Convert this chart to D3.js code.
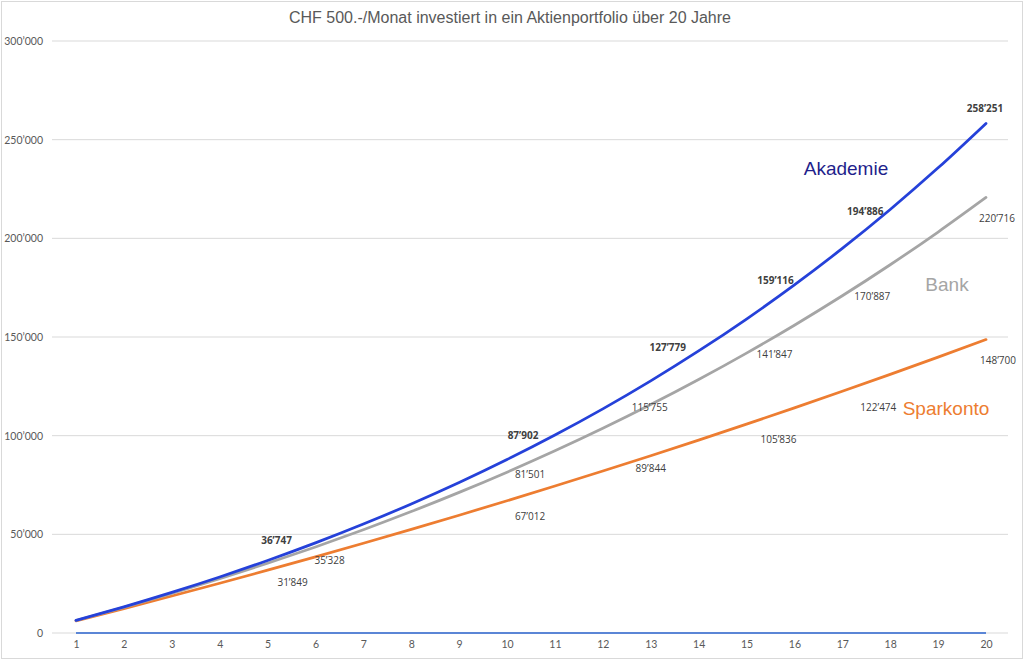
<!DOCTYPE html>
<html>
<head>
<meta charset="utf-8">
<script src="https://cdn.jsdelivr.net/npm/d3@7"></script>
<style>
  body { margin: 0; background: #fff; }
  svg { display: block; }
</style>
</head>
<body>
<svg id="chart" width="1024" height="661"></svg>
<script>
// Jahre 1..20
var years = d3.range(1, 21);

var akademie = [6410, 13259, 20577, 28395, 36747, 45671, 55205, 65392, 76275, 87902,
                100326, 113598, 127779, 142929, 159116, 176410, 194886, 214627, 235718, 258251];
var bank = [6330, 13008, 20054, 27487, 35328, 43601, 52330, 61538, 71252, 81501,
            92314, 103721, 115755, 128452, 141847, 155979, 170887, 186615, 203208, 220716];
var sparkonto = [6120, 12362, 18730, 25224, 31849, 38606, 45498, 52528, 59698, 67012,
                 74472, 82082, 89844, 97761, 105836, 114072, 122474, 131043, 139784, 148700];
var basis = [0, 0, 0, 0, 0, 0, 0, 0, 0, 0, 0, 0, 0, 0, 0, 0, 0, 0, 0, 0];

var yTicks = [0, 50000, 100000, 150000, 200000, 250000, 300000];
var labelYears = [5, 10, 13, 15, 17, 20];

var title = "CHF 500.-/Monat investiert in ein Aktienportfolio über 20 Jahre";

// label offsets (px) relative to point, per series
var offAkademie = [[9,-20],[16,-25],[17,-34],[29,-39],[23,-37],[-1,-15]];
var offBank = [[62,-3],[23,2],[-1,2],[28,1],[30,0],[11,21]];
var offSpar = [[25,12],[23,15],[0,12],[32,15],[36,16],[12,20]];

var svg = d3.select("#chart");
var W = 1024, H = 661;

svg.append("rect")
   .attr("x", 1.5).attr("y", 1.5)
   .attr("width", W - 3).attr("height", H - 4)
   .attr("fill", "#fff").attr("stroke", "#d9d9d9");

var gridLeft = 52, gridRight = 1008;

var x = d3.scalePoint().domain(years).range([76, 986]);
var y = d3.scaleLinear().domain([0, 300000]).range([633, 41]);

svg.append("text")
   .attr("x", 510).attr("y", 23)
   .attr("text-anchor", "middle")
   .attr("font-family", "Liberation Sans, Arial, sans-serif")
   .attr("font-size", 16)
   .attr("fill", "#595959")
   .text(title);

var fmt = function(v){ return d3.format(",")(v).replace(/,/g, "\u2019"); };

// grid
svg.append("g").selectAll("line").data(yTicks).enter().append("line")
   .attr("x1", gridLeft).attr("x2", gridRight)
   .attr("y1", function(d){ return y(d); }).attr("y2", function(d){ return y(d); })
   .attr("stroke", "#d9d9d9").attr("stroke-width", 1);

// y axis labels
var yAxis = d3.axisLeft(y).tickValues(yTicks).tickSize(0).tickPadding(0).tickFormat(fmt);
var gy = svg.append("g").attr("transform", "translate(43,0)").call(yAxis);
gy.select(".domain").remove();
gy.selectAll("text").attr("font-family", "Lato, sans-serif").attr("font-size", 10.5).attr("fill", "#595959");

// x axis labels
var xAxis = d3.axisBottom(x).tickSize(0).tickPadding(0);
var gx = svg.append("g").attr("transform", "translate(0,641)").call(xAxis);
gx.select(".domain").remove();
gx.selectAll("text").attr("font-family", "Lato, sans-serif").attr("font-size", 10.5).attr("fill", "#595959");

var line = d3.line()
   .x(function(d, i){ return x(years[i]); })
   .y(function(d){ return y(d); })
   .curve(d3.curveMonotoneX);

svg.append("path").datum(basis).attr("d", line)
   .attr("fill", "none").attr("stroke", "#5b86d6").attr("stroke-width", 2);
svg.append("path").datum(sparkonto).attr("d", line)
   .attr("fill", "none").attr("stroke", "#ed7d31").attr("stroke-width", 2.75).attr("stroke-linecap", "round");
svg.append("path").datum(bank).attr("d", line)
   .attr("fill", "none").attr("stroke", "#a5a5a5").attr("stroke-width", 2.75).attr("stroke-linecap", "round");
svg.append("path").datum(akademie).attr("d", line)
   .attr("fill", "none").attr("stroke", "#2541d9").attr("stroke-width", 2.75).attr("stroke-linecap", "round");

function dataLabels(values, offs, bold){
  svg.append("g").selectAll("text").data(labelYears).enter().append("text")
     .attr("x", function(d, i){ return x(d) + offs[i][0]; })
     .attr("y", function(d, i){ return y(values[d - 1]) + offs[i][1] + 4; })
     .attr("text-anchor", "middle")
     .attr("font-family", "Open Sans, sans-serif")
     .attr("font-size", 10)
     .attr("font-weight", bold ? "bold" : "normal")
     .attr("fill", "#404040")
     .text(function(d){ return fmt(values[d - 1]); });
}
dataLabels(akademie, offAkademie, true);
dataLabels(bank, offBank, false);
dataLabels(sparkonto, offSpar, false);

// series names
var names = [
  {t: "Akademie", x: 846, y: 175, c: "#1f1f8c"},
  {t: "Bank", x: 947, y: 291, c: "#a5a5a5"},
  {t: "Sparkonto", x: 946, y: 415, c: "#ed7d31"}
];
svg.append("g").selectAll("text").data(names).enter().append("text")
   .attr("x", function(d){ return d.x; })
   .attr("y", function(d){ return d.y; })
   .attr("text-anchor", "middle")
   .attr("font-family", "Liberation Sans, Arial, sans-serif")
   .attr("font-size", 19)
   .attr("fill", function(d){ return d.c; })
   .text(function(d){ return d.t; });
</script>
</body>
</html>
